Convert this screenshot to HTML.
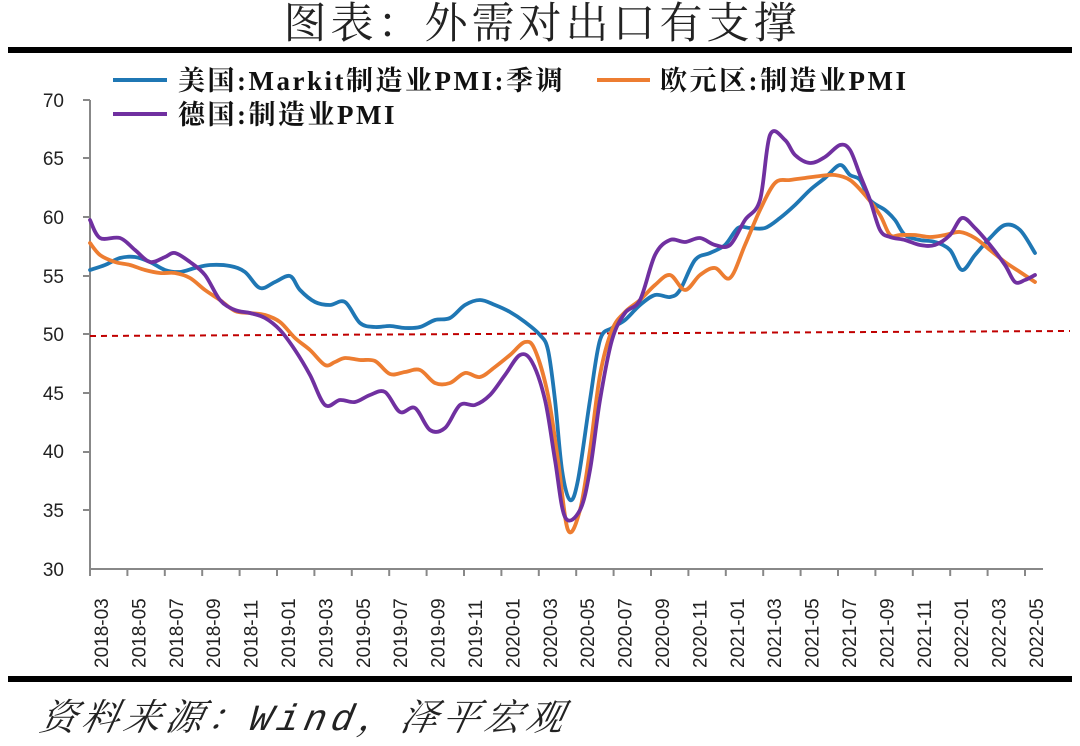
<!DOCTYPE html>
<html><head><meta charset="utf-8"><style>
body{margin:0;background:#fff;width:1080px;height:741px;overflow:hidden}
</style></head><body>
<svg width="1080" height="741" xmlns="http://www.w3.org/2000/svg">
<text x="542" y="38" text-anchor="middle" font-family="'Noto Serif CJK SC',serif" font-size="43" letter-spacing="4" fill="#222">图表：外需对出口有支撑</text>
<rect x="8" y="47" width="1064" height="6" fill="#000"/>
<rect x="8" y="676" width="1064" height="6" fill="#000"/>
<text x="38" y="730" font-family="'Liberation Mono','Noto Serif CJK SC',serif" font-style="italic" font-size="37" letter-spacing="5" fill="#222" transform="skewX(-12) translate(155,0)">资料来源：Wind，泽平宏观</text>
<g stroke="#888" stroke-width="2" fill="none">
<line x1="90" y1="100" x2="90" y2="569"/>
<line x1="90" y1="569" x2="1043" y2="569"/>
</g>
<g stroke="#888" stroke-width="2" id="ticks"></g>
<g font-family="'Liberation Sans',sans-serif" font-size="19" fill="#222" text-anchor="end">
<text x="64" y="107">70</text><text x="64" y="165">65</text><text x="64" y="224">60</text><text x="64" y="283">55</text><text x="64" y="341">50</text><text x="64" y="400">45</text><text x="64" y="458">40</text><text x="64" y="517">35</text><text x="64" y="576">30</text>
</g>
<g stroke="#888" stroke-width="2">
<line x1="83" y1="100" x2="90" y2="100"/><line x1="83" y1="158" x2="90" y2="158"/><line x1="83" y1="217" x2="90" y2="217"/><line x1="83" y1="276" x2="90" y2="276"/><line x1="83" y1="334" x2="90" y2="334"/><line x1="83" y1="393" x2="90" y2="393"/><line x1="83" y1="452" x2="90" y2="452"/><line x1="83" y1="510" x2="90" y2="510"/>
</g>
<g id="xl" font-family="'Liberation Sans',sans-serif" font-size="19" fill="#222"></g>
<line x1="90" y1="336" x2="1070" y2="331" stroke="#c00000" stroke-width="2" stroke-dasharray="6,5"/>
<g fill="none" stroke-width="3.8" stroke-linejoin="round" stroke-linecap="round" id="series">
<path stroke="#1f77b4" data-p="90,270 105,265 120,258 135,257 150,262 165,270 180,272 195,268 210,265 230,266 245,272 260,288 275,282 290,276 300,290 315,302 330,305 345,302 360,323 375,327 390,326 405,328 420,327 435,320 450,318 465,305 480,300 495,305 510,312 525,322 540,335 548,350 555,400 562,470 570,500 578,480 590,400 600,340 612,328 625,320 640,305 655,295 670,297 680,290 695,260 710,253 725,245 738,228 750,228 765,228 780,218 795,205 810,190 825,178 840,165 850,175 860,180 870,200 885,210 895,220 905,235 920,240 935,242 950,250 962,270 975,255 990,238 1005,225 1020,230 1035,253"/>
<path stroke="#ed7d31" data-p="90,243 100,255 115,262 130,265 145,270 160,273 175,273 190,278 205,290 220,300 235,311 250,313 265,315 280,322 295,338 310,350 325,365 335,362 345,358 360,360 375,361 390,374 405,372 420,370 435,383 450,383 465,373 480,377 495,367 510,355 525,342 535,350 548,395 558,460 568,530 580,510 590,450 600,375 612,330 625,312 640,300 655,285 670,275 685,290 700,275 715,268 730,278 745,245 760,210 775,183 790,180 805,178 820,176 835,175 850,180 865,195 880,215 890,235 900,235 915,235 930,237 945,235 960,232 975,238 990,250 1005,262 1020,272 1035,282"/>
<path stroke="#7030a0" data-p="90,220 100,238 120,238 135,250 150,262 165,257 175,253 190,262 205,275 220,300 235,310 250,313 265,318 280,330 295,350 310,375 325,405 340,400 355,402 370,395 385,392 400,412 415,408 430,430 445,428 460,405 475,405 490,395 505,375 520,355 532,362 545,400 555,460 565,517 580,510 590,470 600,400 612,340 625,313 640,300 655,255 670,240 685,242 700,238 715,245 730,245 745,220 760,200 770,135 785,140 795,155 810,163 825,157 840,145 850,150 860,175 870,200 880,230 890,237 905,240 920,245 935,245 950,235 962,218 975,228 990,245 1005,265 1015,282 1025,280 1035,275"/>
</g>
<g font-family="'Liberation Serif','Noto Serif CJK SC',serif" font-weight="bold" font-size="27" letter-spacing="2.5" fill="#111">
<line x1="113" y1="80" x2="167" y2="80" stroke="#1f77b4" stroke-width="4"/>
<text x="178" y="90">美国:Markit制造业PMI:季调</text>
<line x1="597" y1="80" x2="650" y2="80" stroke="#ed7d31" stroke-width="4"/>
<text x="660" y="90">欧元区:制造业PMI</text>
<line x1="113" y1="114" x2="167" y2="114" stroke="#7030a0" stroke-width="4"/>
<text x="178" y="124">德国:制造业PMI</text>
</g>
</svg>
<script>
var ns="http://www.w3.org/2000/svg",t=document.getElementById('ticks'),xl=document.getElementById('xl');
for(var k=0;k<=25;k++){var x=90+k*37.4;var l=document.createElementNS(ns,'line');l.setAttribute('x1',x);l.setAttribute('x2',x);l.setAttribute('y1',569);l.setAttribute('y2',576);t.appendChild(l);
var m=3+2*k,y=2018+Math.floor((m-1)/12),mo=((m-1)%12)+1;var s=y+'-'+(mo<10?'0':'')+mo;
var tx=document.createElementNS(ns,'text');tx.textContent=s;tx.setAttribute('transform','translate('+(x+18)+',668) rotate(-90)');xl.appendChild(tx);}
document.querySelectorAll('#series path').forEach(function(p){
var pts=p.getAttribute('data-p').split(' ').map(function(s){return s.split(',').map(Number)});
var d='M'+pts[0][0]+','+pts[0][1];
for(var i=0;i<pts.length-1;i++){var p0=pts[Math.max(0,i-1)],p1=pts[i],p2=pts[i+1],p3=pts[Math.min(pts.length-1,i+2)];
var c1x=p1[0]+(p2[0]-p0[0])/6,c1y=p1[1]+(p2[1]-p0[1])/6,c2x=p2[0]-(p3[0]-p1[0])/6,c2y=p2[1]-(p3[1]-p1[1])/6;
d+=' C'+c1x+','+c1y+' '+c2x+','+c2y+' '+p2[0]+','+p2[1];}
p.setAttribute('d',d);p.removeAttribute('data-p');});
</script>
</body></html>
